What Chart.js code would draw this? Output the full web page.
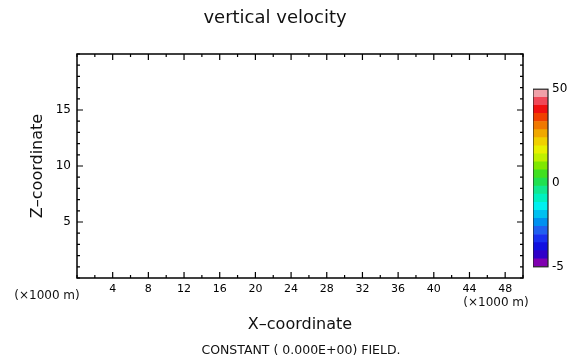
<!DOCTYPE html>
<html>
<head>
<meta charset="utf-8">
<script src="https://cdn.jsdelivr.net/npm/chart.js@4.4.1/dist/chart.umd.min.js"></script>
<style>
  html, body { margin: 0; padding: 0; background: #fff; overflow: hidden; }
  #main { position: absolute; left: 0; top: 0; }
  #cbar { position: absolute; left: 533px; top: 78px; }
</style>
</head>
<body>
<canvas id="main" width="569" height="364"></canvas>
<canvas id="cbar" width="36" height="200"></canvas>
<script>
// ─── Data ──────────────────────────
const titleText = 'vertical velocity';
const fieldNote = 'CONSTANT ( 0.000E+00) FIELD.';
const unitText = '(\u00d71000 m)';

const xRange = [0, 50];
const zRange = [0, 20];
const xTickLabels = [4, 8, 12, 16, 20, 24, 28, 32, 36, 40, 44, 48];
const zTickLabels = [5, 10, 15];
const xMinorStep = 2;
const zMinorStep = 1;

// constant field -> no contours, empty series
const fieldPoints = [];

// colour bar, bottom to top
const cbarColors = [
    '#8000b0', '#3000c8', '#1010e0', '#1830f0', '#2060f0', '#0090f0',
    '#00c0f0', '#00f0f0', '#00f0c0', '#10e890', '#20e050', '#40e020',
    '#80e800', '#c0f000', '#e8f000', '#f0d000', '#f0a800', '#f07800',
    '#f04000', '#f01010', '#f04858', '#f0a0a8'
];
const cbarTickPos = [0, 10.4, 22];
const cbarTickLabels = ['-5', '0', '50'];

const FONT = 'DejaVu Sans';

// ─── Inward tick marks + frame + texts ──────────────────────────
const framePlugin = {
    id: 'frame',
    afterDraw(chart) {
        const ctx = chart.ctx;
        const a = chart.chartArea;
        const xs = chart.scales.x, ys = chart.scales.y;
        ctx.save();
        ctx.strokeStyle = '#000';
        ctx.lineWidth = 1.5;
        ctx.strokeRect(a.left, a.top, a.right - a.left, a.bottom - a.top);

        ctx.lineWidth = 1.2;
        ctx.beginPath();
        for (let v = xRange[0]; v <= xRange[1]; v += xMinorStep) {
            const len = xTickLabels.includes(v) ? 6 : 3;
            const px = xs.getPixelForValue(v);
            ctx.moveTo(px, a.bottom); ctx.lineTo(px, a.bottom - len);
            ctx.moveTo(px, a.top); ctx.lineTo(px, a.top + len);
        }
        for (let v = zRange[0]; v <= zRange[1]; v += zMinorStep) {
            const len = zTickLabels.includes(v) ? 6 : 3;
            const py = ys.getPixelForValue(v);
            ctx.moveTo(a.left, py); ctx.lineTo(a.left + len, py);
            ctx.moveTo(a.right, py); ctx.lineTo(a.right - len, py);
        }
        ctx.stroke();

        ctx.fillStyle = '#111';
        ctx.textAlign = 'center';
        ctx.textBaseline = 'middle';
        ctx.font = '18px "' + FONT + '"';
        ctx.fillText(titleText, 275, 18);

        ctx.font = '16px "' + FONT + '"';
        ctx.fillText('X\u2013coordinate', 300, 325);
        ctx.save();
        ctx.translate(38, 166);
        ctx.rotate(-Math.PI / 2);
        ctx.fillText('Z\u2013coordinate', 0, 0);
        ctx.restore();

        ctx.font = '12px "' + FONT + '"';
        ctx.fillText(unitText, 47, 296);
        ctx.fillText(unitText, 496, 303);
        ctx.font = '12.5px "' + FONT + '"';
        ctx.fillText(fieldNote, 301, 351);
        ctx.restore();
    }
};

new Chart(document.getElementById('main'), {
    type: 'scatter',
    data: {
        datasets: [{ label: titleText, data: fieldPoints, pointRadius: 0 }]
    },
    options: {
        responsive: false,
        animation: false,
        devicePixelRatio: 1,
        layout: { padding: { left: 0, top: 54, right: 46, bottom: 0 } },
        plugins: { legend: { display: false }, tooltip: { enabled: false } },
        scales: {
            x: {
                type: 'linear',
                min: xRange[0], max: xRange[1],
                afterBuildTicks: s => { s.ticks = xTickLabels.map(v => ({ value: v })); },
                afterFit: s => { s.height = 86; },
                ticks: {
                    autoSkip: false, maxRotation: 0, padding: 5,
                    color: '#000', font: { size: 11, family: FONT }
                },
                grid: { display: false, drawTicks: false },
                border: { display: false }
            },
            y: {
                type: 'linear',
                min: zRange[0], max: zRange[1],
                afterBuildTicks: s => { s.ticks = zTickLabels.map(v => ({ value: v })); },
                afterFit: s => { s.width = 77; },
                ticks: {
                    autoSkip: false, padding: 6,
                    color: '#000', font: { size: 12, family: FONT }
                },
                grid: { display: false, drawTicks: false },
                border: { display: false }
            }
        }
    },
    plugins: [framePlugin]
});

// ─── Colour bar ──────────────────────────
const cbarFrame = {
    id: 'cbarFrame',
    afterDatasetsDraw(chart) {
        const a = chart.chartArea, ctx = chart.ctx;
        ctx.save();
        ctx.strokeStyle = '#222';
        ctx.lineWidth = 1.2;
        ctx.strokeRect(a.left, a.top, a.right - a.left, a.bottom - a.top);
        ctx.restore();
    }
};

new Chart(document.getElementById('cbar'), {
    type: 'bar',
    data: {
        labels: ['level'],
        datasets: cbarColors.map(c => ({
            data: [1], backgroundColor: c, borderWidth: 0,
            barPercentage: 1, categoryPercentage: 1
        }))
    },
    options: {
        responsive: false,
        animation: false,
        devicePixelRatio: 1,
        layout: { padding: { left: 0, top: 7, right: 0, bottom: 7 } },
        plugins: { legend: { display: false }, tooltip: { enabled: false } },
        scales: {
            x: { stacked: true, display: false },
            y: {
                stacked: true,
                position: 'right',
                min: 0, max: cbarColors.length,
                afterBuildTicks: s => { s.ticks = cbarTickPos.map(v => ({ value: v })); },
                afterFit: s => { s.width = 21; },
                ticks: {
                    autoSkip: false, padding: 4,
                    color: '#000', font: { size: 12, family: FONT },
                    callback: (v, i) => cbarTickLabels[i]
                },
                grid: { display: false, drawTicks: false },
                border: { display: false }
            }
        }
    },
    plugins: [cbarFrame]
});
</script>
</body>
</html>
